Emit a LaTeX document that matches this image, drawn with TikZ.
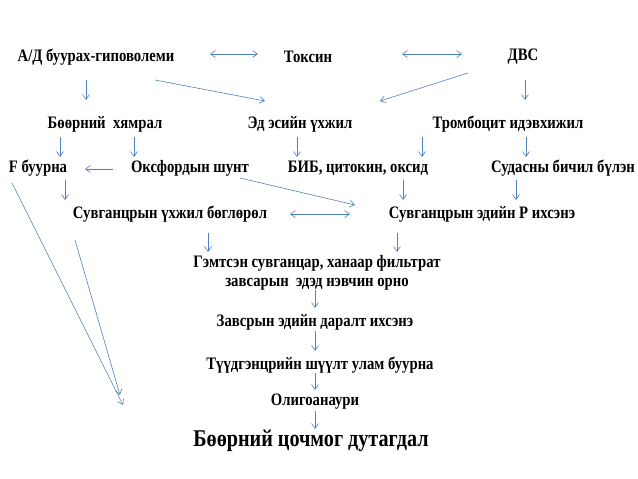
\documentclass[tikz,border=0pt]{standalone}
\usepackage{fontspec}
\setmainfont{Liberation Serif}[FakeStretch=0.84]
\usetikzlibrary{arrows.meta}
\definecolor{arc}{RGB}{79,129,189}
\begin{document}
\begin{tikzpicture}[x=1pt,y=-1pt,
  t/.style={font=\bfseries\fontsize{17.5}{19}\selectfont,inner sep=1pt,align=center},
  ar/.style={draw=arc,line width=0.6pt,-{Straight Barb[length=5pt,width=7pt]}},
  dar/.style={draw=arc,line width=0.6pt,{Straight Barb[length=5pt,width=7pt]}-{Straight Barb[length=5pt,width=7pt]}}]
\useasboundingbox (0,0) rectangle (638,479);
\node[t] (ad) at (96,57) {А/Д буурах-гиповолеми};
\node[t] (tox) at (308,57) {Токсин};
\node[t] (dvs) at (523,57) {ДВС};
\node[t] (bh) at (105,124) {Бөөрний\ \ хямрал};
\node[t] (ed) at (300,124) {Эд эсийн үхжил};
\node[t] (tr) at (508,124) {Тромбоцит идэвхижил};
\node[t] (fb) at (38,168) {F буурна};
\node[t] (ox) at (190,168) {Оксфордын шунт};
\node[t] (bib) at (358,168) {БИБ, цитокин, оксид};
\node[t] (sud) at (563,168) {Судасны бичил бүлэн};
\node[t] (su) at (170,214) {Сувганцрын үхжил бөглөрөл};
\node[t] (se) at (482,214) {Сувганцрын эдийн Р ихсэнэ};
\node[t] (gem) at (317,273) {Гэмтсэн сувганцар, ханаар фильтрат\\завсарын\ \ эдэд нэвчин орно};
\node[t] (zav) at (315,322) {Завсрын эдийн даралт ихсэнэ};
\node[t] (tuu) at (320,365) {Түүдгэнцрийн шүүлт улам буурна};
\node[t] (ol) at (315,402) {Олигоанаури};
\node[t,font=\bfseries\fontsize{24}{26}\selectfont] (bcd) at (311,441) {Бөөрний цочмог дутагдал};
\coordinate (p1) at (12,183); \coordinate (e1) at (123,405);
\coordinate (p2) at (75,240); \coordinate (e2) at (120,395);
% arrows
\draw[dar] (210,54) -- (258,54);
\draw[dar] (402,54) -- (462,54);
\draw[ar] (86,80) -- (86,100);
\draw[ar] (525,80) -- (525,100);
\draw[ar] (155,80) -- (265,101);
\draw[ar] (468,73) -- (380,101);
\draw[ar] (60,137) -- (60,157);
\draw[ar] (134,137) -- (134,157);
\draw[ar] (297,137) -- (297,157);
\draw[ar] (422,137) -- (422,157);
\draw[ar] (526,137) -- (526,157);
\draw[ar] (113,169) -- (85,169);
\draw[ar] (65,180) -- (65,200);
\draw[ar] (240,178) -- (355,205);
\draw[ar] (403,180) -- (403,200);
\draw[ar] (516,180) -- (516,200);
\draw[dar] (290,214) -- (350,214);
\draw[ar] (208,233) -- (208,252);
\draw[ar] (397,233) -- (397,252);
\draw[ar] (315,290) -- (315,308);
\draw[ar] (315,331) -- (315,351);
\draw[ar] (315,373) -- (315,390);
\draw[ar] (315,411) -- (315,429);
\draw[ar] (p1) -- (e1);
\draw[ar] (p2) -- (e2);
\end{tikzpicture}
\end{document}
